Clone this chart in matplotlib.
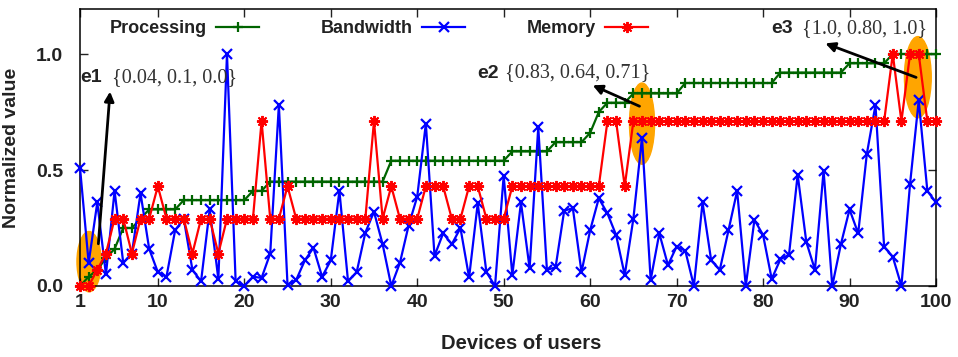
import matplotlib
matplotlib.use('Agg')
import matplotlib.pyplot as plt
from matplotlib.patches import Ellipse

plt.rcParams['font.family'] = ['Liberation Sans', 'DejaVu Sans']

devices = list(range(1, 101))

processing = [0.0, 0.04, 0.07, 0.12, 0.16, 0.25, 0.25, 0.29, 0.33, 0.33,
              0.33, 0.33, 0.37, 0.37, 0.37, 0.37, 0.37, 0.37, 0.37, 0.37,
              0.41, 0.41, 0.45, 0.45, 0.45, 0.45, 0.45, 0.45, 0.45, 0.45,
              0.45, 0.45, 0.45, 0.45, 0.45, 0.45, 0.54, 0.54, 0.54, 0.54,
              0.54, 0.54, 0.54, 0.54, 0.54, 0.54, 0.54, 0.54, 0.54, 0.54,
              0.58, 0.58, 0.58, 0.58, 0.58, 0.62, 0.62, 0.62, 0.62, 0.66,
              0.75, 0.79, 0.79, 0.79, 0.83, 0.83, 0.83, 0.83, 0.83, 0.83,
              0.875, 0.875, 0.875, 0.875, 0.875, 0.875, 0.875, 0.875, 0.875, 0.875,
              0.875, 0.92, 0.92, 0.92, 0.92, 0.92, 0.92, 0.92, 0.92, 0.96,
              0.96, 0.96, 0.96, 0.96, 1.0, 1.0, 1.0, 1.0, 1.0, 1.0]

bandwidth = [0.51, 0.10, 0.36, 0.05, 0.41, 0.10, 0.14, 0.40, 0.16, 0.06,
             0.04, 0.24, 0.29, 0.07, 0.02, 0.33, 0.03, 1.0, 0.02, 0.0,
             0.04, 0.035, 0.14, 0.78, 0.005, 0.026, 0.11, 0.165, 0.04, 0.11,
             0.41, 0.02, 0.06, 0.23, 0.32, 0.18, 0.0, 0.10, 0.26, 0.385,
             0.70, 0.13, 0.227, 0.18, 0.25, 0.037, 0.356, 0.06, 0.0, 0.475,
             0.047, 0.36, 0.076, 0.685, 0.07, 0.08, 0.325, 0.335, 0.06, 0.24,
             0.378, 0.313, 0.22, 0.047, 0.29, 0.64, 0.026, 0.227, 0.09, 0.17,
             0.153, 0.0, 0.36, 0.11, 0.07, 0.24, 0.41, 0.0, 0.285, 0.22,
             0.03, 0.115, 0.135, 0.48, 0.19, 0.07, 0.497, 0.0, 0.18, 0.33,
             0.227, 0.569, 0.78, 0.17, 0.126, 0.0, 0.44, 0.80, 0.41, 0.36]

memory = [0.0, 0.0, 0.07, 0.14, 0.29, 0.29, 0.14, 0.29, 0.29, 0.43,
          0.29, 0.29, 0.29, 0.14, 0.29, 0.29, 0.14, 0.29, 0.29, 0.29,
          0.29, 0.71, 0.29, 0.29, 0.43, 0.29, 0.29, 0.29, 0.29, 0.29,
          0.29, 0.29, 0.29, 0.29, 0.71, 0.29, 0.43, 0.29, 0.29, 0.29,
          0.43, 0.43, 0.43, 0.29, 0.29, 0.43, 0.43, 0.29, 0.29, 0.29,
          0.43, 0.43, 0.43, 0.43, 0.43, 0.43, 0.43, 0.43, 0.43, 0.43,
          0.43, 0.71, 0.71, 0.43, 0.71, 0.71, 0.71, 0.71, 0.71, 0.71,
          0.71, 0.71, 0.71, 0.71, 0.71, 0.71, 0.71, 0.71, 0.71, 0.71,
          0.71, 0.71, 0.71, 0.71, 0.71, 0.71, 0.71, 0.71, 0.71, 0.71,
          0.71, 0.71, 0.71, 0.71, 1.0, 0.71, 1.0, 1.0, 0.71, 0.71]

x_ticks = [1, 10, 20, 30, 40, 50, 60, 70, 80, 90, 100]
y_ticks = [0.0, 0.5, 1.0]

# highlighted points: label and value text
highlights = [('e1', '{0.04, 0.1, 0.0}'),
              ('e2', '{0.83, 0.64, 0.71}'),
              ('e3', '{1.0, 0.80, 1.0}')]

fig = plt.figure(figsize=(9.58, 3.57), dpi=100)
ax = fig.add_axes([80 / 958, 71 / 357, 856 / 958, 277 / 357])

# orange ellipses behind the lines
ell_pos = [(2.05, 0.105, 2.8, 0.26), (66, 0.70, 2.9, 0.35), (97.9, 0.90, 3.1, 0.35)]
for cx, cy, w, h in ell_pos:
    ax.add_patch(Ellipse((cx, cy), w, h, color='#FFA500', zorder=1, clip_on=False))

ax.plot(devices, processing, color='#006400', lw=1.6, marker='+', ms=7.5, mew=1.6,
        label='Processing', zorder=3, clip_on=False)
ax.plot(devices, bandwidth, color='#0000FF', lw=1.6, marker='x', ms=7.5, mew=1.6,
        label='Bandwidth', zorder=4, clip_on=False)
ax.plot(devices, memory, color='#FF0000', lw=1.6, marker=(8, 2, 0), ms=8, mew=1.4,
        label='Memory', zorder=5, clip_on=False)

ax.set_xlim(1, 100)
ax.set_ylim(0, 1.194)
ax.set_xticks(x_ticks)
ax.set_yticks(y_ticks)
ax.set_yticklabels(['%.1f' % v for v in y_ticks])
ax.tick_params(direction='in', top=True, right=True, length=6, width=1,
               labelsize=14, colors='#222222')
ax.tick_params(axis='x', pad=6)
ax.tick_params(axis='y', pad=12)
for lab in ax.get_xticklabels() + ax.get_yticklabels():
    lab.set_fontweight('bold')
for s in ax.spines.values():
    s.set_linewidth(1.1)

ax.set_xlabel('Devices of users', fontsize=14.5, fontweight='bold', color='#222222')
ax.set_ylabel('Normalized value', fontsize=14, fontweight='bold', color='#222222')
ax.xaxis.set_label_coords(0.515, -0.175)
ax.yaxis.set_label_coords(-0.07, 0.5)

ax.legend(ncol=3, loc='upper left', bbox_to_anchor=(110 / 958, 1 - 20 / 357),
          bbox_transform=fig.transFigure, markerfirst=False, frameon=False,
          handlelength=2.4, handletextpad=0.5, columnspacing=3.4, borderpad=0,
          borderaxespad=0, numpoints=1,
          prop={'weight': 'bold', 'size': 13})
for t in ax.get_legend().get_texts():
    t.set_color('#222222')

# annotation texts and arrows
label_pos = [(1.0, 4.7, 0.90), (46.9, 50.15, 0.918), (81.0, 84.5, 1.11)]
arrows = [((3.1, 0.17), (4.5, 0.85)), ((66, 0.77), (60, 0.87)), ((98, 0.895), (86.9, 1.05))]
for (name, vals), (lx, vx, ly), (tail, head) in zip(highlights, label_pos, arrows):
    ax.text(lx, ly, name, fontsize=14, fontweight='bold', color='#222222',
            va='center', ha='left', zorder=6)
    ax.text(vx, ly, vals, fontsize=14.5, family='Liberation Serif', color='#333333',
            va='center', ha='left', zorder=6)
    ax.annotate('', xy=head, xytext=tail,
                arrowprops=dict(arrowstyle='-|>', color='black', lw=2, mutation_scale=14),
                zorder=6)

fig.savefig('out.png', dpi=100)
